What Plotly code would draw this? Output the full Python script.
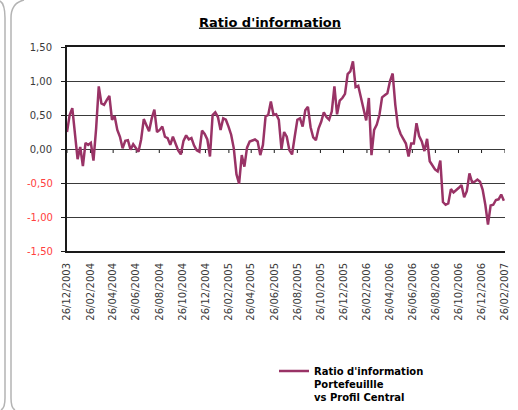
import pandas as pd
import plotly.graph_objects as go

# ---------------- data ----------------
start_date = "2003-12-26"
series_name = "Ratio d'information<br>Portefeuillle<br>vs Profil Central"
ratio_values = [
    0.25, 0.50, 0.60, 0.20, -0.15, 0.03, -0.25, 0.09, 0.06, 0.09,
    -0.17, 0.30, 0.92, 0.67, 0.65, 0.72, 0.78, 0.43, 0.48, 0.28,
    0.18, 0.01, 0.12, 0.13, -0.01, 0.07, 0.02, -0.04, 0.14, 0.44,
    0.35, 0.26, 0.45, 0.58, 0.25, 0.28, 0.33, 0.18, 0.16, 0.06,
    0.18, 0.07, -0.02, -0.08, 0.12, 0.20, 0.14, 0.16, 0.05, -0.02,
    -0.04, 0.27, 0.22, 0.14, -0.11, 0.50, 0.54, 0.47, 0.28, 0.45,
    0.43, 0.33, 0.21, 0.01, -0.37, -0.51, -0.09, -0.26, 0.02, 0.11,
    0.13, 0.14, 0.11, -0.09, 0.06, 0.48, 0.50, 0.70, 0.50, 0.51,
    0.43, 0.00, 0.25, 0.18, -0.02, -0.08, 0.18, 0.43, 0.45, 0.33,
    0.57, 0.62, 0.32, 0.17, 0.13, 0.30, 0.40, 0.54, 0.47, 0.43,
    0.55, 0.92, 0.51, 0.71, 0.75, 0.81, 1.10, 1.14, 1.29, 0.91,
    0.93, 0.75, 0.60, 0.42, 0.75, -0.09, 0.28, 0.36, 0.50, 0.76,
    0.79, 0.82, 1.00, 1.11, 0.65, 0.33, 0.22, 0.14, 0.08, -0.11,
    0.08, 0.08, 0.38, 0.19, 0.11, -0.03, 0.15, -0.18, -0.25, -0.30,
    -0.33, -0.17, -0.78, -0.82, -0.80, -0.59, -0.64, -0.61, -0.57, -0.53,
    -0.71, -0.62, -0.36, -0.49, -0.48, -0.45, -0.48, -0.60, -0.82, -1.11,
    -0.83, -0.82, -0.75, -0.74, -0.67, -0.76,
]
dates = pd.date_range(start_date, periods=len(ratio_values), freq="7D")

x_tick_dates = [
    "2003-12-26", "2004-02-26", "2004-04-26", "2004-06-26", "2004-08-26",
    "2004-10-26", "2004-12-26", "2005-02-26", "2005-04-26", "2005-06-26",
    "2005-08-26", "2005-10-26", "2005-12-26", "2006-02-26", "2006-04-26",
    "2006-06-26", "2006-08-26", "2006-10-26", "2006-12-26", "2007-02-26",
]
x_tick_labels = [pd.Timestamp(d).strftime("%d/%m/%Y") for d in x_tick_dates]

y_pos_vals = [1.5, 1.0, 0.5, 0.0]
y_pos_text = ["1,50", "1,00", "0,50", "0,00"]
y_neg_vals = [-0.5, -1.0, -1.5]
y_neg_text = ["-0,50", "-1,00", "-1,50"]
y_range = [-1.5, 1.5]
x_range = ["2003-12-26", "2007-02-26"]

# ---------------- styling ----------------
W, H = 518, 410
PL, PR, PT, PB = 67, 505, 47, 251  # plot area in pixels
FONT = "DejaVu Sans"
LINE_COLOR = "#993366"
POS_COLOR = "#3A3A3A"
NEG_COLOR = "#FF4040"
AXIS_COLOR = "#1A1A1A"
LABEL_RIGHT_PX = 55


def px_x(px):
    return (px - PL) / (PR - PL)


def px_y(py):
    return (PB - py) / (PB - PT)


fig = go.Figure()
fig.add_trace(
    go.Scatter(
        x=dates,
        y=ratio_values,
        mode="lines",
        name=series_name,
        line=dict(color=LINE_COLOR, width=2.5),
        showlegend=True,
    )
)

all_y_vals = y_pos_vals + y_neg_vals
all_y_text = y_pos_text + [""] * len(y_neg_vals)

fig.update_layout(
    width=W,
    height=H,
    autosize=False,
    margin=dict(l=PL, r=W - PR, t=PT, b=H - PB, pad=0, autoexpand=False),
    paper_bgcolor="white",
    plot_bgcolor="white",
    font=dict(family=FONT, size=10, color=POS_COLOR),
    title=dict(
        text="<b><u>Ratio d'information</u></b>",
        x=270 / W,
        xanchor="center",
        xref="container",
        y=1 - 22 / H,
        yref="container",
        yanchor="middle",
        font=dict(family=FONT, size=13, color="#000000"),
    ),
    xaxis=dict(
        type="date",
        range=x_range,
        tickvals=x_tick_dates,
        ticktext=x_tick_labels,
        tickangle=-90,
        ticks="",
        showgrid=False,
        showline=True,
        linecolor=AXIS_COLOR,
        linewidth=2,
        mirror=True,
        zeroline=False,
        automargin=False,
        tickfont=dict(family=FONT, size=10, color=POS_COLOR),
        ticklabelstandoff=6,
    ),
    yaxis=dict(
        range=y_range,
        tickvals=all_y_vals,
        ticktext=all_y_text,
        ticks="outside",
        ticklen=4,
        tickcolor=AXIS_COLOR,
        showgrid=True,
        gridcolor="#3a3a3a",
        gridwidth=1,
        zeroline=False,
        showline=True,
        linecolor=AXIS_COLOR,
        linewidth=2,
        automargin=False,
        tickfont=dict(family=FONT, size=10, color=POS_COLOR),
        ticklabelstandoff=7,
    ),
    legend=dict(
        x=px_x(274),
        y=px_y(358),
        xanchor="left",
        yanchor="top",
        valign="top",
        itemwidth=30,
        bgcolor="rgba(0,0,0,0)",
        font=dict(family=FONT, size=10, color="#000000", weight="bold"),
        tracegroupgap=0,
    ),
    showlegend=True,
)

# negative tick labels in red (as text next to the axis)
for v, t in zip(y_neg_vals, y_neg_text):
    fig.add_annotation(
        x=px_x(LABEL_RIGHT_PX),
        xref="paper",
        y=v,
        yref="y",
        text=t,
        showarrow=False,
        xanchor="right",
        yanchor="middle",
        font=dict(family=FONT, size=10, color=NEG_COLOR),
    )

# tick marks on the zero line (category axis crossing at 0)
for d in x_tick_dates:
    fig.add_shape(
        type="line",
        xref="x",
        yref="y",
        x0=d,
        x1=d,
        y0=0,
        y1=-4 * (y_range[1] - y_range[0]) / (PB - PT),
        line=dict(color=AXIS_COLOR, width=1),
        layer="below",
    )

# decorative rounded frame edges at the left of the picture
frame_color = "#B4B4B4"
left_path = (
    f"M {px_x(0)},{px_y(1)} Q {px_x(5)},{px_y(4)} {px_x(5)},{px_y(18)} "
    f"L {px_x(5)},{px_y(398)} Q {px_x(5)},{px_y(408)} {px_x(1)},{px_y(410)}"
)
right_path = (
    f"M {px_x(24)},{px_y(0)} Q {px_x(11)},{px_y(3)} {px_x(11)},{px_y(18)} "
    f"L {px_x(11)},{px_y(398)} Q {px_x(11)},{px_y(408)} {px_x(15)},{px_y(410)}"
)
for p in (left_path, right_path):
    fig.add_shape(
        type="path",
        path=p,
        xref="paper",
        yref="paper",
        line=dict(color=frame_color, width=1.5),
        layer="above",
    )

fig.write_html(
    "out.html",
    config={"displayModeBar": False},
    post_script="document.body.style.margin='0';document.body.style.padding='0';",
)
